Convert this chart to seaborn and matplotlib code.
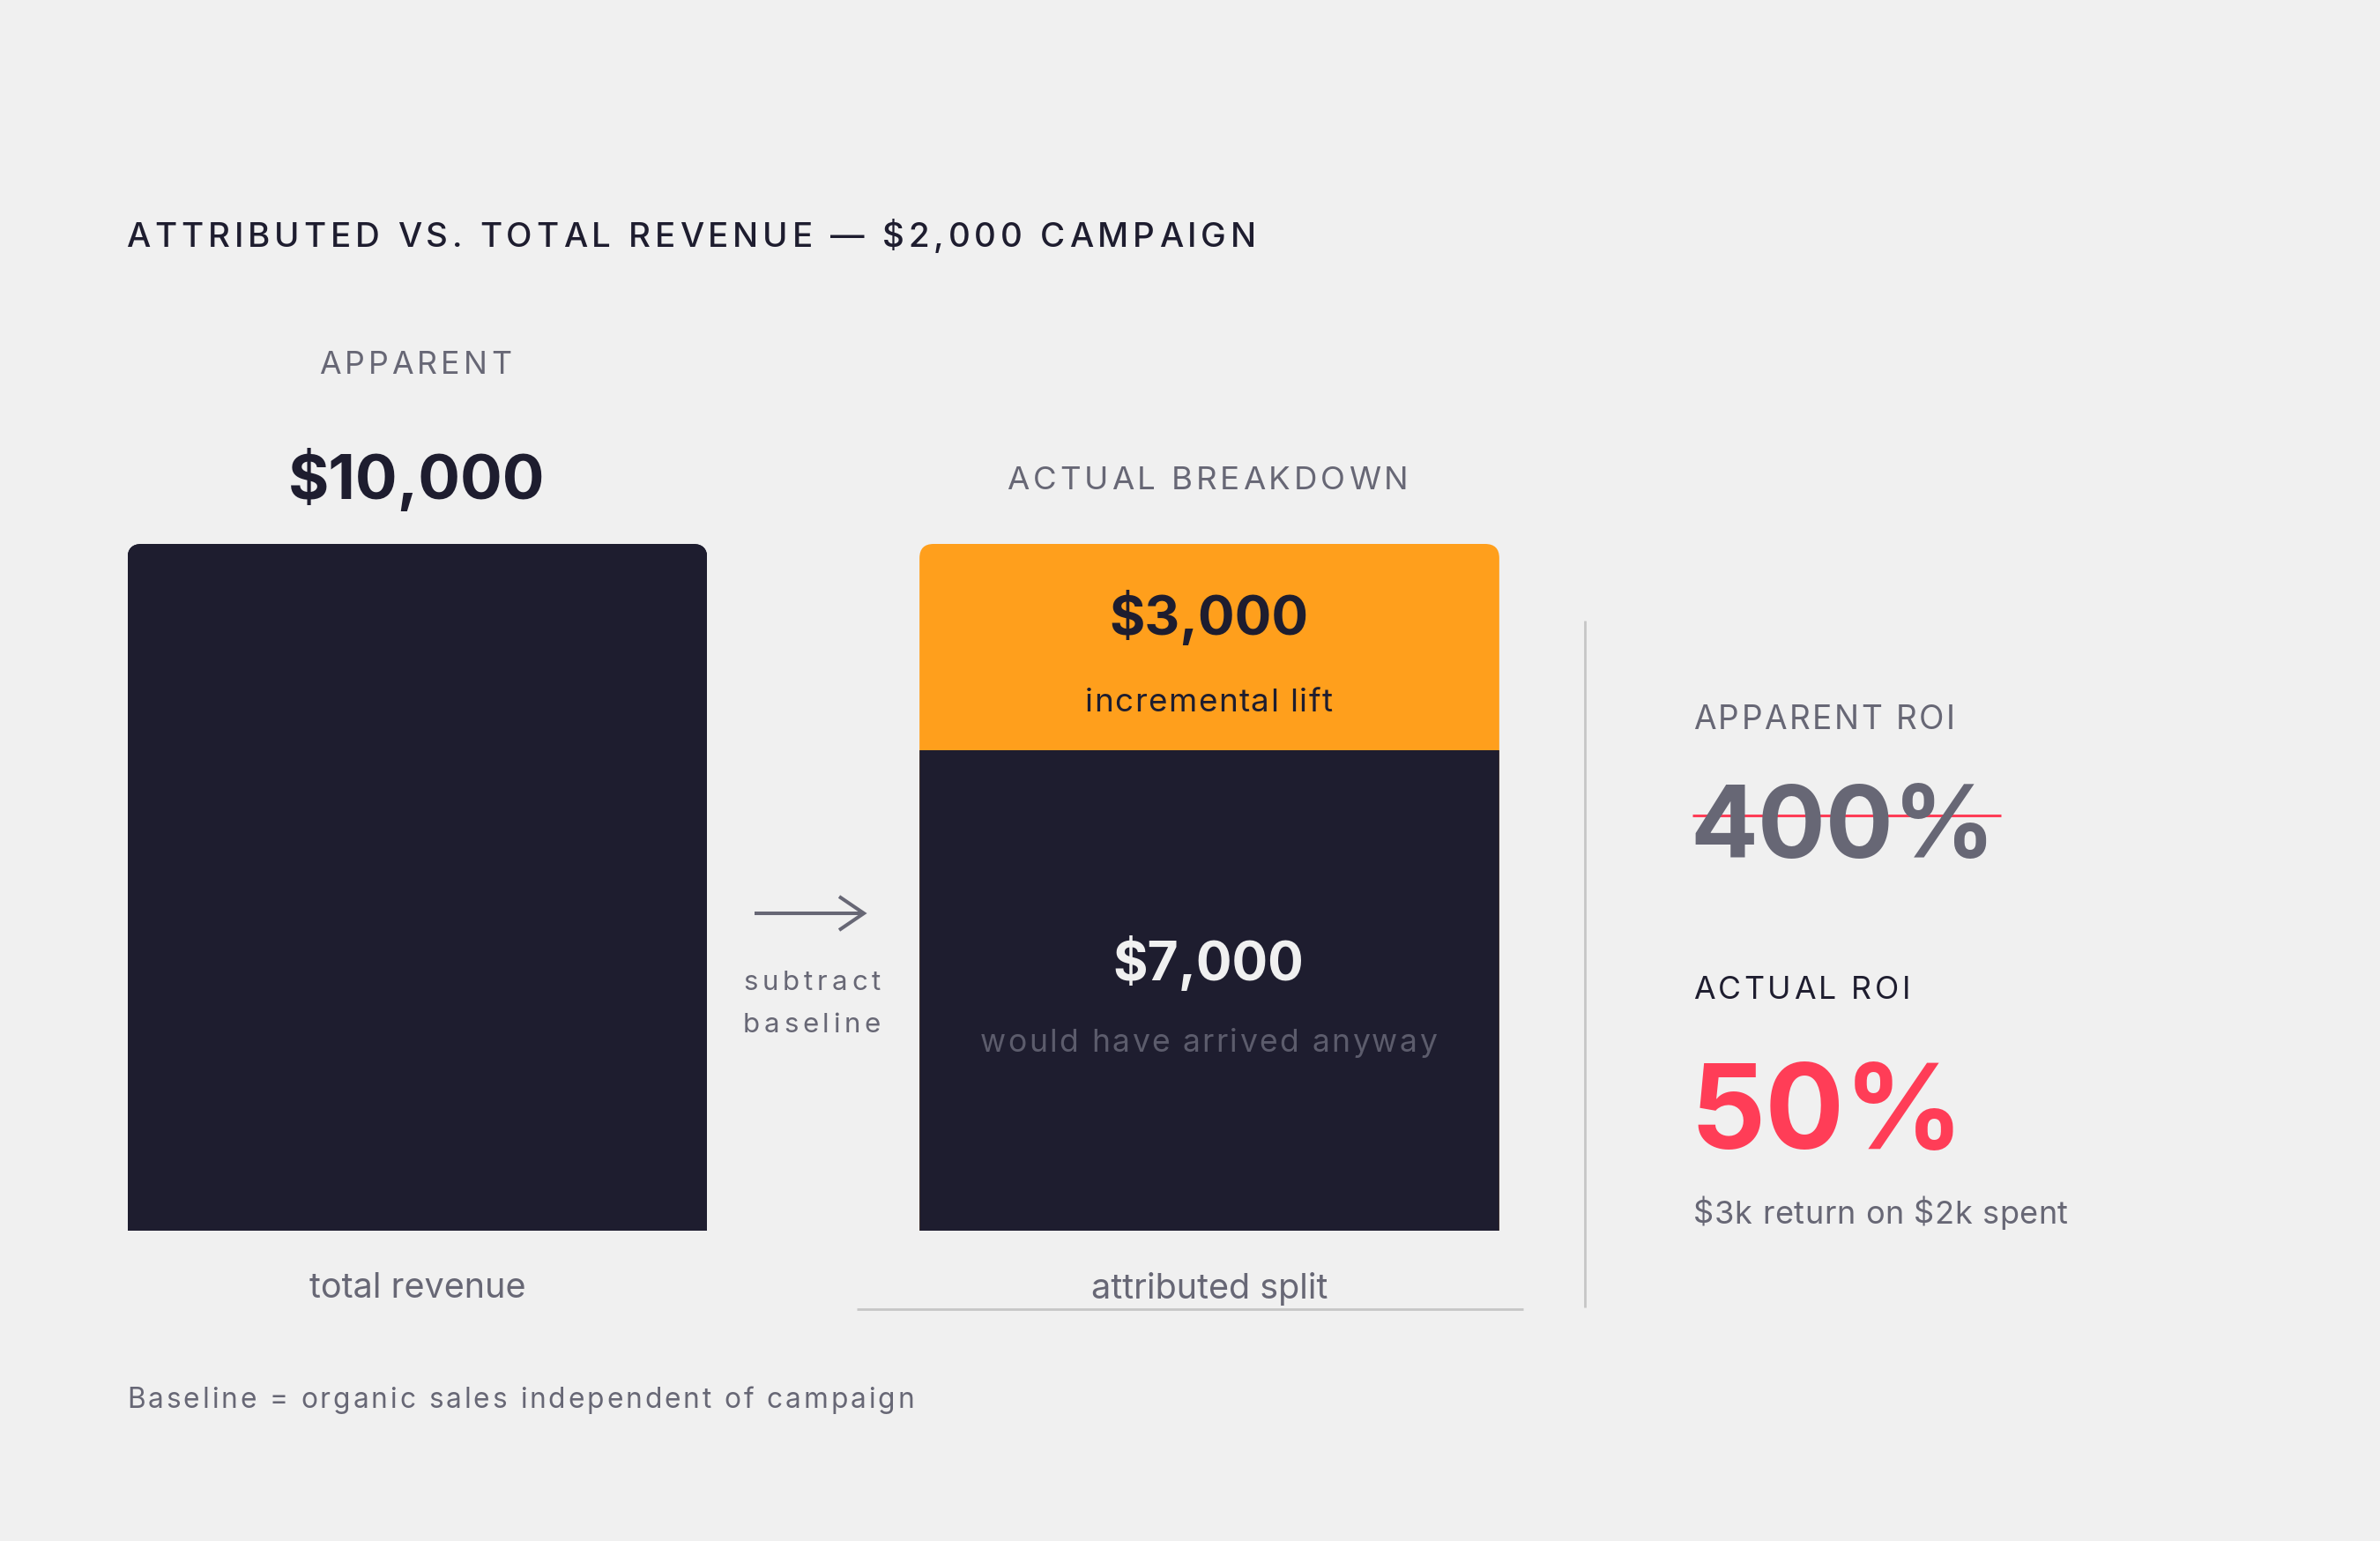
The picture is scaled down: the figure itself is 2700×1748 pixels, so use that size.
import numpy as np
import pandas as pd
import seaborn as sns
import matplotlib.pyplot as plt
from matplotlib.font_manager import FontProperties
from matplotlib.patches import FancyBboxPatch
from matplotlib.lines import Line2D

# du lieu
categories = ["total revenue", "attributed split"]
total_revenue = [10000, 10000]
baseline_revenue = [10000, 7000]
campaign_cost = 2000
incremental = total_revenue[1] - baseline_revenue[1]
apparent_roi = 400
actual_roi = 50

# mau
BG = "#F0F0F0"
DARK = "#1E1D2F"
ORANGE = "#FF9F1C"
GREY = "#676775"
MUTED = "#5C5C6C"
RED = "#FF3D57"
LINE = "#C6C6C6"
FONT = "Inter"

W, H = 2700, 1749

sns.set_theme(style="white", rc={"figure.facecolor": BG, "axes.facecolor": BG})
plt.rcParams["font.family"] = [FONT, "DejaVu Sans"]

fig = plt.figure(figsize=(W / 100, H / 100), dpi=100, facecolor=BG)
# truc cho cac cot: tam cot 0 o x=473.5px, khoang cach 898.5px
unit = 898.5
ax = fig.add_axes([(473.5 - 0.5 * unit) / W, 1 - 1397 / H, 2 * unit / W, 779 / H])
ax.set_facecolor("none")

df = pd.DataFrame({"cat": categories, "total": total_revenue, "base": baseline_revenue})
sns.barplot(data=df, x="cat", y="total", hue="cat", palette=[DARK, ORANGE],
            width=0.732, saturation=1, linewidth=0, legend=False, ax=ax)
sns.barplot(data=df, x="cat", y="base", color=DARK,
            width=0.732, saturation=1, linewidth=0, ax=ax)
ax.set_xlim(-0.5, 1.5)
ax.set_ylim(0, 10000)
ax.set_xlabel("")
ax.set_ylabel("")
ax.set_yticks([])
sns.despine(ax=ax, left=True, bottom=True)
ax.tick_params(axis="x", length=0, pad=33, labelsize=28.5, labelcolor=GREY)

# bo goc tren cua cot
px_x = 2 * unit / 2
px_y = 779 / 10000
aspect = px_x / px_y
r = 16 / px_x
for p in ax.patches:
    clip = FancyBboxPatch((p.get_x(), -2000), p.get_width(), 12000,
                          boxstyle=f"round,pad=0,rounding_size={r}",
                          mutation_aspect=aspect, transform=ax.transData)
    p.set_clip_path(clip)

renderer = fig.canvas.get_renderer()


def tw(s, fp):
    return renderer.get_text_width_height_descent(s, fp, ismath=False)[0]


def spaced(x, y, s, size, color, width, weight="normal", ha="left"):
    # chu gian cach: dat tung ky tu
    fp = FontProperties(family=FONT, size=size, weight=weight)
    base = tw("HH", fp)
    offs = [tw("H" + s[:i] + "H", fp) - base for i in range(len(s))]
    natural = tw(s, fp)
    track = (width - natural) / (len(s) - 1)
    total = natural + track * (len(s) - 1)
    x0 = x - total / 2 if ha == "center" else x
    for i, c in enumerate(s):
        if c == " ":
            continue
        fig.text((x0 + offs[i] + i * track) / W, 1 - y / H, c, fontproperties=fp,
                 color=color, ha="left", va="baseline")


def txt(x, y, s, size, color, ha="left"):
    fig.text(x / W, 1 - y / H, s, fontsize=size, color=color, fontweight="bold",
             ha=ha, va="baseline", family=[FONT, "DejaVu Sans"])


def line(xs, ys, color, lw):
    fig.add_artist(Line2D([x / W for x in xs], [1 - y / H for y in ys], color=color,
                          lw=lw, transform=fig.transFigure, solid_capstyle="butt",
                          solid_joinstyle="miter"))


spaced(143, 280, f"ATTRIBUTED VS. TOTAL REVENUE — ${campaign_cost:,} CAMPAIGN",
       27.7, DARK, 1282, weight="medium")
spaced(471, 424, "APPARENT", 25.7, GREY, 218, ha="center")
txt(473, 566, f"${total_revenue[0]:,}", 51, DARK, ha="center")
spaced(1370, 555, "ACTUAL BREAKDOWN", 26.4, GREY, 455, ha="center")
txt(1371, 720, f"${incremental:,}", 44.5, DARK, ha="center")
spaced(1371, 807, "incremental lift", 26.5, DARK, 281, ha="center")
txt(1371, 1112, f"${baseline_revenue[1]:,}", 43.5, BG, ha="center")
spaced(1371, 1193, "would have arrived anyway", 25.6, MUTED, 518, ha="center")

# mui ten
line([856, 980], [1037, 1037], GREY, 2.9)
line([952, 980, 952], [1018, 1037, 1056], GREY, 2.9)
spaced(921, 1123, "subtract", 22.5, GREY, 156, ha="center")
spaced(921, 1171, "baseline", 22.5, GREY, 156, ha="center")

line([972, 1728], [1486, 1486], LINE, 2)
line([1798, 1798], [705, 1484], LINE, 2)

spaced(1921, 827, "APPARENT ROI", 26.7, GREY, 297)
txt(1917, 973, f"{apparent_roi}%", 82, GREY)
line([1920, 2270], [926, 926], RED, 2.2)
spaced(1921, 1133, "ACTUAL ROI", 25.7, DARK, 246)
txt(1917, 1303, f"{actual_roi}%", 96, RED)
spaced(1921, 1388, f"${incremental // 1000}k return on ${campaign_cost // 1000}k spent",
       26, GREY, 425)

spaced(144, 1597, "Baseline = organic sales independent of campaign", 22.8, GREY, 893)

fig.savefig("out.png", dpi=100, facecolor=BG)
